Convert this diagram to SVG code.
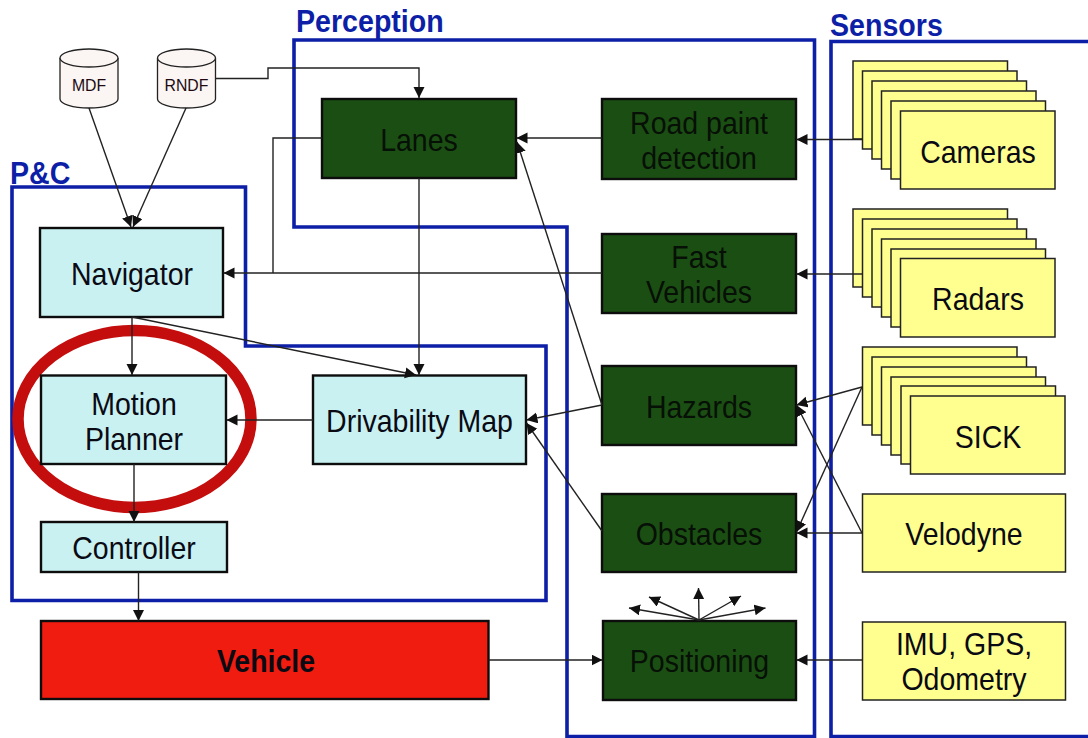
<svg xmlns="http://www.w3.org/2000/svg" width="1088" height="738" viewBox="0 0 1088 738">
<style>
text{font-family:"Liberation Sans",Arial,sans-serif;font-size:28.5px;text-anchor:middle;fill:#0a0a14;transform-box:fill-box;transform-origin:center 80%;transform:translateY(1px) scaleY(1.08)}
.head{font-weight:bold;fill:#0c1fa6;text-anchor:start;font-size:28.6px}
.frame{fill:none;stroke:#0c1fa6;stroke-width:3.6}
.g rect{fill:#1b4e12;stroke:#0d0d0d;stroke-width:2.4}
.g text{fill:#071007}
.b rect{fill:#c9f1f1;stroke:#0d0d0d;stroke-width:2.4}
.y rect{fill:#ffff8f;stroke:#222;stroke-width:1.5}
.c path{fill:#fbf5f3;stroke:#222;stroke-width:1.3}
.c text{font-size:15.8px;fill:#200a10}
#connectors path{fill:none;stroke:#222;stroke-width:1.4;marker-end:url(#arr)}
#connectors path.n{marker-end:none}
</style>
<defs>
<marker id="arr" markerUnits="userSpaceOnUse" markerWidth="13" markerHeight="13" refX="11" refY="5.500" orient="auto">
<path d="M0,0 L11,5.500 L0,11 Z" fill="#111"/>
</marker>
</defs>
<rect width="1088" height="738" fill="#fff"/>
<g id="perception-frame"><path class="frame" d="M294,40 H814.500 V736.500 H567 V227 H294 Z"/><text class="head" x="296" y="31">Perception</text></g>
<g id="sensors-frame"><path class="frame" d="M1092,41.500 H831 V736.500 H1092"/><text class="head" x="830" y="35">Sensors</text></g>
<g id="pc-frame"><path class="frame" d="M12,187 H245.500 V346 H546 V600.500 H12 Z"/><text class="head" x="10" y="183">P&amp;C</text></g>
<ellipse id="highlight" cx="134.500" cy="419" rx="116.500" ry="88.500" fill="none" stroke="#c40e0e" stroke-width="11.500"/>
<g id="mdf" class="c"><path d="M60,58 A29,9 0 0 1 118,58 V99 A29,9 0 0 1 60,99 Z"/><path d="M60,58 A29,9 0 0 0 118,58" fill="none"/><text x="89" y="90">MDF</text></g>
<g id="rndf" class="c"><path d="M157.500,58 A29,9 0 0 1 215.500,58 V99 A29,9 0 0 1 157.500,99 Z"/><path d="M157.500,58 A29,9 0 0 0 215.500,58" fill="none"/><text x="186.500" y="90">RNDF</text></g>
<g id="lanes" class="g"><rect x="322" y="99" width="194" height="79"/><text x="419" y="150">Lanes</text></g>
<g id="road-paint" class="g"><rect x="602" y="99" width="194" height="80"/><text x="699" y="133">Road paint</text><text x="699" y="168">detection</text></g>
<g id="fast-vehicles" class="g"><rect x="602" y="234" width="194" height="79"/><text x="699" y="267">Fast</text><text x="699" y="302">Vehicles</text></g>
<g id="hazards" class="g"><rect x="602" y="366" width="194" height="79"/><text x="699" y="417">Hazards</text></g>
<g id="obstacles" class="g"><rect x="602" y="494" width="194" height="78"/><text x="699" y="544">Obstacles</text></g>
<g id="positioning" class="g"><rect x="603" y="621" width="193" height="79"/><text x="699.500" y="671">Positioning</text></g>
<g id="navigator" class="b"><rect x="40" y="228" width="183" height="89"/><text x="132" y="284">Navigator</text></g>
<g id="motion-planner" class="b"><rect x="41" y="375.500" width="185" height="88.500"/><text x="134" y="414">Motion</text><text x="134" y="449">Planner</text></g>
<g id="drivability-map" class="b"><rect x="313" y="375.500" width="213" height="88.500"/><text x="419.500" y="431">Drivability Map</text></g>
<g id="controller" class="b"><rect x="41" y="522" width="186" height="50"/><text x="134" y="558">Controller</text></g>
<g id="vehicle"><rect x="41" y="621" width="447.500" height="78" fill="#f01c10" stroke="#0d0d0d" stroke-width="2.400"/><text x="266" y="671" font-weight="bold">Vehicle</text></g>
<g id="cameras" class="y"><rect x="853" y="61" width="154.500" height="78"/><rect x="862.500" y="71" width="154.500" height="78"/><rect x="872" y="81" width="154.500" height="78"/><rect x="881.500" y="91" width="154.500" height="78"/><rect x="891" y="101" width="154.500" height="78"/><rect x="900.500" y="111" width="154.500" height="78"/><text x="978" y="162">Cameras</text></g>
<g id="radars" class="y"><rect x="853" y="209" width="154.500" height="78"/><rect x="862.500" y="219" width="154.500" height="78"/><rect x="872" y="229" width="154.500" height="78"/><rect x="881.500" y="239" width="154.500" height="78"/><rect x="891" y="249" width="154.500" height="78"/><rect x="900.500" y="258.500" width="154.500" height="78.500"/><text x="978" y="309">Radars</text></g>
<g id="sick" class="y"><rect x="862.500" y="347" width="154.500" height="78"/><rect x="872" y="357" width="154.500" height="78"/><rect x="881.500" y="367" width="154.500" height="78"/><rect x="891" y="377" width="154.500" height="78"/><rect x="901" y="386" width="154.500" height="78"/><rect x="910.500" y="396" width="154.500" height="78"/><text x="988" y="447">SICK</text></g>
<g id="velodyne" class="y"><rect x="862.500" y="494" width="203" height="78"/><text x="964" y="544">Velodyne</text></g>
<g id="imu" class="y"><rect x="862.500" y="622" width="203" height="78"/><text x="964" y="654">IMU, GPS,</text><text x="964" y="689">Odometry</text></g>
<g id="connectors">
<path d="M216,78.500 H268 V68 H419 V98"/>
<path d="M89,108 L131,227"/>
<path d="M186,108 L133,227"/>
<path class="n" d="M322,138 H273 V273"/>
<path d="M602,273 H223.500"/>
<path d="M132,317 V375"/>
<path d="M132,317 L416,375"/>
<path d="M419,178 V375"/>
<path d="M313,420 H226.500"/>
<path d="M134,464 V522"/>
<path d="M138.500,572 V621"/>
<path d="M488.500,660 H602.500"/>
<path d="M602,138 H516.500"/>
<path d="M862,139.500 H796.500"/>
<path d="M862,274 H796.500"/>
<path d="M602,405 L517,142"/>
<path d="M602,405 L526.500,420"/>
<path d="M602,531 L526.500,423"/>
<path d="M862,387 L796.500,405"/>
<path d="M862,387 L796.500,532"/>
<path d="M862,533 L796.500,405"/>
<path d="M862,533 H796.500"/>
<path d="M862,660 H796.500"/>
<path d="M699,620 L629,608"/>
<path d="M699,620 L649,597"/>
<path d="M699,620 L698.500,588"/>
<path d="M699,620 L741,596"/>
<path d="M699,620 L765.500,608"/>
</g>
</svg>
